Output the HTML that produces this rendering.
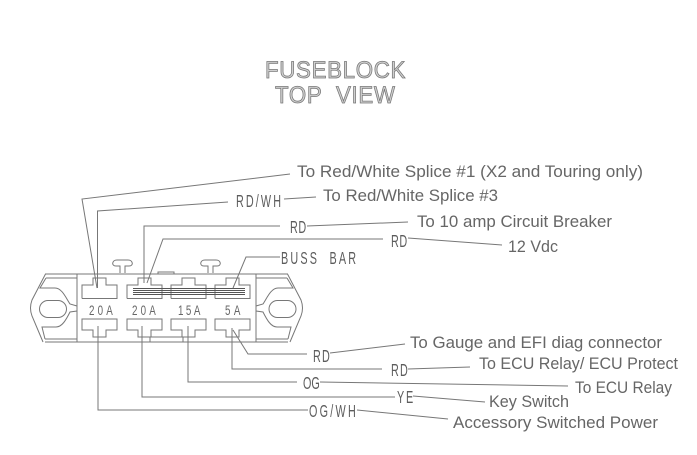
<!DOCTYPE html>
<html><head><meta charset="utf-8"><style>
html,body{margin:0;padding:0;background:#fff;width:697px;height:455px;overflow:hidden}
svg{display:block}
.l{font-family:"Liberation Sans",sans-serif;font-size:17px;fill:#666}
.n{font-family:"Liberation Sans",sans-serif;font-size:18px;fill:#5c5c5c}
.f{font-family:"Liberation Sans",sans-serif;font-size:14px;fill:#666}
.t{font-family:"Liberation Sans",sans-serif;font-size:24px;fill:#d0d0d0;stroke:#777;stroke-width:.8}
</style></head><body>
<svg width="697" height="455" viewBox="0 0 697 455" xmlns="http://www.w3.org/2000/svg">
<rect width="697" height="455" fill="#fff"/>
<text class="t" transform="translate(265,78) scale(.93,1)" textLength="151" lengthAdjust="spacing">FUSEBLOCK</text>
<text class="t" transform="translate(275,103) scale(.93,1)" textLength="129" lengthAdjust="spacing">TOP&#160;&#160;VIEW</text>

<g fill="none" stroke="#777" stroke-width="1">
<!-- body -->
<path d="M45 274H288M45 342H288M46 278H77M256 278H287M45 339H77M256 339H288M77 274V342M256 274V342"/>
<path d="M45.500 274L32 300Q29 308 32 316L43 342M287.500 274L301 300Q304 308 301 316L290 342"/>
<path d="M46 278L40 288H55C62 288 66 298 70 304L77 306M77 311L70 312C66 320 62 327 56 327H42L45 339"/>
<path d="M287 278L293 288H278C271 288 267 298 263 304L256 306M256 311L263 312C267 320 271 327 277 327H291L288 339"/>
<rect x="39.500" y="300.500" width="27" height="17" rx="8.500"/>
<rect x="269" y="300.500" width="27" height="17" rx="8.500"/>
<!-- T stubs -->
<path d="M120 273V266H116C111 266 112 260 117 260H128C133 260 134 266 129 266H125V273"/>
<path d="M208 273V266H204C199 266 200 260 205 260H216C221 260 222 266 217 266H213V273"/>
<path d="M158 274V272H174V274"/>
<!-- top fuse sockets -->
<path d="M82 298.500V285H93V278H106V285H117V298.500H82"/>
<path d="M127 298.500V285H138V278H151V285H162V298.500H127"/>
<path d="M171 298.500V285H182V278H195V285H206V298.500H171"/>
<path d="M215 298.500V285H226V278H239V285H250V298.500H215"/>
<!-- bottom fuse sockets -->
<path d="M82 319H117V330H106V337H93V330H82Z"/>
<path d="M127 319H162V330H151V337H138V330H127Z"/>
<path d="M171 319H206V330H195V337H182V330H171Z"/>
<path d="M215 319H250V330H239V337H226V330H215Z"/>
<path d="M150 337H193M150 337V342M183 337V342"/>
</g>
<!-- buss bar -->
<path d="M133 288.500H245M133 290.500H245M133 292.500H245M133 294.500H245" stroke="#555" stroke-width="1" fill="none"/>

<!-- leader lines -->
<g fill="none" stroke="#777" stroke-width="1">
<path d="M97 288L82 199L290 174"/>
<path d="M97.500 288V211L228 202"/>
<path d="M284 199L316 197"/>
<path d="M144 283V226H280"/>
<path d="M307 226L408 222"/>
<path d="M147 283L163 239H383"/>
<path d="M408 238L502 245"/>
<path d="M233 288L246 257H280"/>
<path d="M233 330L248 354H307"/>
<path d="M330 353L405 344"/>
<path d="M232 328V369H382"/>
<path d="M408 369L470 367"/>
<path d="M188 326V382H297"/>
<path d="M320 382L568 386"/>
<path d="M142 326V397H395"/>
<path d="M413 396L485 402"/>
<path d="M98 326V410H308"/>
<path d="M357 410L448 419"/>
</g>

<!-- fuse labels -->
<text class="f" transform="translate(89,315) scale(.7,1)" textLength="34" lengthAdjust="spacing">20A</text>
<text class="f" transform="translate(132,315) scale(.7,1)" textLength="34" lengthAdjust="spacing">20A</text>
<text class="f" transform="translate(178,315) scale(.7,1)" textLength="32" lengthAdjust="spacing">15A</text>
<text class="f" transform="translate(225,315) scale(.7,1)" textLength="22" lengthAdjust="spacing">5A</text>

<!-- wire colours -->
<text class="n" transform="translate(236,207) scale(.6,1)" textLength="75" lengthAdjust="spacing">RD/WH</text>
<text class="n" transform="translate(290,233) scale(.6,1)" textLength="27" lengthAdjust="spacing">RD</text>
<text class="n" transform="translate(391,247) scale(.6,1)" textLength="27" lengthAdjust="spacing">RD</text>
<text class="n" transform="translate(281,264) scale(.6,1)" textLength="125" lengthAdjust="spacing">BUSS&#160;&#160;BAR</text>
<text class="n" transform="translate(313,362) scale(.6,1)" textLength="28" lengthAdjust="spacing">RD</text>
<text class="n" transform="translate(391,376) scale(.6,1)" textLength="28" lengthAdjust="spacing">RD</text>
<text class="n" transform="translate(303,389) scale(.6,1)" textLength="28" lengthAdjust="spacing">OG</text>
<text class="n" transform="translate(397,403) scale(.6,1)" textLength="27" lengthAdjust="spacing">YE</text>
<text class="n" transform="translate(309,417) scale(.6,1)" textLength="78" lengthAdjust="spacing">OG/WH</text>

<!-- labels -->
<text class="l" x="297" y="177" textLength="346" lengthAdjust="spacingAndGlyphs">To Red/White Splice #1 (X2 and Touring only)</text>
<text class="l" x="323" y="201" textLength="175" lengthAdjust="spacingAndGlyphs">To Red/White Splice #3</text>
<text class="l" x="417" y="227" textLength="195" lengthAdjust="spacingAndGlyphs">To 10 amp Circuit Breaker</text>
<text class="l" x="508" y="252" textLength="50" lengthAdjust="spacingAndGlyphs">12 Vdc</text>
<text class="l" x="410" y="348" textLength="252" lengthAdjust="spacingAndGlyphs">To Gauge and EFI diag connector</text>
<text class="l" x="479" y="369" textLength="199" lengthAdjust="spacingAndGlyphs">To ECU Relay/ ECU Protect</text>
<text class="l" x="575" y="393" textLength="97" lengthAdjust="spacingAndGlyphs">To ECU Relay</text>
<text class="l" x="489" y="407" textLength="80" lengthAdjust="spacingAndGlyphs">Key Switch</text>
<text class="l" x="453" y="428" textLength="205" lengthAdjust="spacingAndGlyphs">Accessory Switched Power</text>
</svg>
</body></html>
